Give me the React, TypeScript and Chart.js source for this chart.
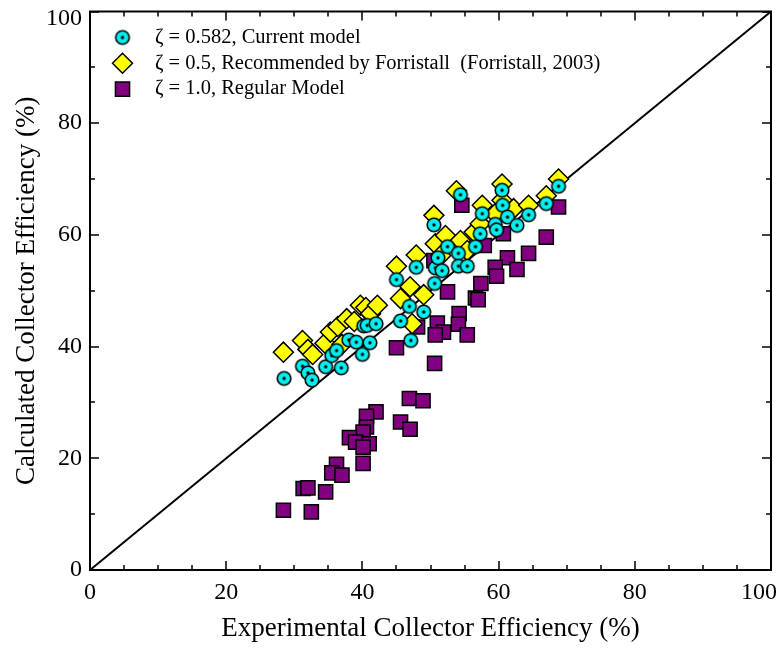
import React, { useEffect, useRef } from 'react';
import { Chart, registerables } from 'chart.js';
import { drawPoint } from 'chart.js/helpers';

Chart.register(...registerables);

const FONT = "'Liberation Serif', 'Times New Roman', Times, serif";

const seriesLabels = [
  'ζ = 0.582, Current model',
  'ζ = 0.5, Recommended by Forristall  (Forristall, 2003)',
  'ζ = 1.0, Regular Model',
];

const currentX = [28.5, 31.2, 32.0, 32.6, 34.6, 35.5, 36.2, 36.9, 38.0, 39.1, 40.0, 40.2, 40.7, 41.1, 42.0, 45.6, 46.9, 47.1, 49.0, 45.0, 47.9, 50.5, 50.6, 50.7, 51.1, 51.7, 52.5, 54.1, 54.1, 55.4, 54.4, 56.6, 57.3, 57.6, 59.5, 59.7, 60.5, 60.6, 61.3, 62.7, 64.4, 67.0, 68.8];
const currentY = [34.3, 36.5, 35.3, 34.0, 36.4, 38.4, 39.3, 36.2, 41.2, 40.8, 38.6, 43.7, 43.8, 40.7, 44.1, 44.6, 47.2, 41.1, 46.2, 52.0, 54.2, 61.8, 51.3, 54.1, 55.9, 53.6, 57.9, 56.7, 54.4, 54.4, 67.2, 57.9, 60.2, 63.8, 61.9, 60.9, 68.0, 65.3, 63.2, 61.7, 63.6, 65.6, 68.7];

const forristallX = [28.4, 31.2, 32.0, 32.7, 34.5, 35.3, 36.4, 37.0, 37.7, 38.8, 39.7, 40.5, 41.2, 42.2, 45.6, 47.0, 49.0, 47.3, 45.0, 47.9, 50.5, 50.7, 52.2, 51.5, 54.4, 53.8, 55.4, 56.4, 57.3, 57.6, 59.5, 60.5, 60.5, 62.2, 64.4, 67.0, 68.8];
const forristallY = [39.0, 41.1, 39.5, 38.6, 40.6, 42.6, 43.6, 40.4, 45.0, 44.5, 47.4, 47.0, 45.9, 47.4, 48.6, 50.7, 49.3, 44.1, 54.4, 56.4, 63.5, 58.4, 59.9, 56.3, 59.0, 67.9, 57.2, 60.5, 62.0, 65.3, 63.8, 69.1, 66.2, 64.7, 65.3, 67.0, 70.0];

const regularX = [54.6, 68.8, 67.0, 60.7, 57.9, 64.4, 61.3, 62.7, 59.5, 59.7, 57.4, 56.6, 57.0, 52.5, 50.5, 54.2, 54.1, 55.4, 51.0, 51.9, 50.7, 48.1, 45.0, 50.6, 46.9, 48.9, 45.6, 47.0, 42.0, 40.6, 40.6, 40.1, 38.1, 39.0, 41.0, 40.1, 40.1, 36.2, 35.5, 37.0, 31.3, 32.0, 34.6, 28.4, 32.5];
const regularY = [65.3, 65.0, 59.6, 60.2, 58.1, 56.7, 55.9, 53.8, 54.2, 52.6, 51.3, 48.7, 48.4, 49.8, 55.4, 45.9, 44.0, 42.1, 44.2, 42.6, 42.1, 43.5, 39.8, 37.0, 30.7, 30.3, 26.5, 25.2, 28.3, 27.5, 25.6, 24.7, 23.7, 22.9, 22.6, 22.0, 19.1, 18.9, 17.4, 17.0, 14.6, 14.7, 14.0, 10.7, 10.4];

const diagonalX = [0, 100];
const diagonalY = [0, 100];

const axisTicks = [0, 20, 40, 60, 80, 100];
const xMinorStep = 5;
const yMinorStep = 10;

const xTitle = 'Experimental Collector Efficiency (%)';
const yTitle = 'Calculated Collector Efficiency (%)';

const zip = (xs: number[], ys: number[]) => xs.map((x, i) => ({ x, y: ys[i] }));

function makeDotCircle(): HTMLCanvasElement {
  const c = document.createElement('canvas');
  c.width = 18;
  c.height = 18;
  const g = c.getContext('2d')!;
  g.beginPath();
  g.arc(9, 9, 6.8, 0, Math.PI * 2);
  g.fillStyle = '#00F0F0';
  g.fill();
  g.lineWidth = 1.6;
  g.strokeStyle = '#000';
  g.stroke();
  g.beginPath();
  g.arc(9, 9, 1.7, 0, Math.PI * 2);
  g.fillStyle = '#000';
  g.fill();
  return c;
}

const frameTicksPlugin = {
  id: 'frameTicks',
  afterDatasetsDraw(chart: any) {
    const { ctx, chartArea: a, scales } = chart;
    const xs = scales.x;
    const ys = scales.y;
    ctx.save();
    ctx.strokeStyle = '#000';
    ctx.lineWidth = 1.5;
    ctx.beginPath();
    for (let v = xs.min; v <= xs.max; v += xMinorStep) {
      const px = Math.round(xs.getPixelForValue(v));
      const len = v % 20 === 0 ? 9 : 5;
      ctx.moveTo(px, a.bottom);
      ctx.lineTo(px, a.bottom - len);
      ctx.moveTo(px, a.top);
      ctx.lineTo(px, a.top + len);
    }
    for (let v = ys.min; v <= ys.max; v += yMinorStep) {
      const py = Math.round(ys.getPixelForValue(v));
      const len = v % 20 === 0 ? 9 : 5;
      ctx.moveTo(a.left, py);
      ctx.lineTo(a.left + len, py);
      ctx.moveTo(a.right, py);
      ctx.lineTo(a.right - len, py);
    }
    ctx.stroke();
    ctx.lineWidth = 2;
    ctx.strokeRect(a.left, a.top, a.right - a.left, a.bottom - a.top);
    ctx.restore();
  },
};

const insideLegendPlugin = {
  id: 'insideLegend',
  afterDraw(chart: any) {
    const { ctx, chartArea: a } = chart;
    ctx.save();
    ctx.font = `20.5px ${FONT}`;
    ctx.textBaseline = 'middle';
    ctx.textAlign = 'left';
    const markerX = a.left + 32.5;
    const textX = a.left + 65;
    let row = 0;
    chart.data.datasets.forEach((ds: any) => {
      if (!ds.label) return;
      const cy = a.top + 26 + row * 25.8;
      ctx.fillStyle = ds.backgroundColor;
      ctx.strokeStyle = ds.borderColor;
      ctx.lineWidth = ds.borderWidth;
      drawPoint(ctx, { pointStyle: ds.pointStyle, radius: ds.pointRadius, rotation: 0, borderWidth: ds.borderWidth }, markerX, cy);
      ctx.fillStyle = '#000';
      ctx.fillText(ds.label, textX, cy);
      row++;
    });
    ctx.restore();
  },
};

export default function App() {
  const ref = useRef<HTMLCanvasElement | null>(null);

  useEffect(() => {
    if (!ref.current) return;
    const dotCircle = makeDotCircle();
    const tickFont = { family: FONT, size: 24 };
    const chart = new Chart(ref.current, {
      type: 'scatter',
      data: {
        datasets: [
          {
            label: seriesLabels[0],
            data: zip(currentX, currentY),
            pointStyle: dotCircle as any,
            pointRadius: 7,
            backgroundColor: '#00F0F0',
            borderColor: '#000',
            borderWidth: 1.5,
          },
          {
            label: seriesLabels[1],
            data: zip(forristallX, forristallY),
            pointStyle: 'rectRot',
            pointRadius: 10,
            backgroundColor: '#FFFF00',
            borderColor: '#000',
            borderWidth: 1.5,
          },
          {
            label: seriesLabels[2],
            data: zip(regularX, regularY),
            pointStyle: 'rect',
            pointRadius: 10,
            backgroundColor: '#800080',
            borderColor: '#000',
            borderWidth: 1.5,
          },
          {
            type: 'line',
            label: '',
            data: zip(diagonalX, diagonalY),
            showLine: true,
            pointRadius: 0,
            borderColor: '#000',
            borderWidth: 2,
            fill: false,
          } as any,
        ],
      },
      options: {
        animation: false,
        responsive: false,
        devicePixelRatio: 1,
        layout: { padding: { left: 0, right: 12, top: 11, bottom: 0 } },
        plugins: {
          legend: { display: false },
          tooltip: { enabled: false },
        },
        scales: {
          x: {
            type: 'linear',
            min: 0,
            max: 100,
            afterBuildTicks: (s: any) => {
              s.ticks = axisTicks.map((v) => ({ value: v }));
            },
            ticks: {
              font: tickFont,
              color: '#000',
              padding: 8,
              maxRotation: 0,
              autoSkip: false,
              callback: (v: any) => (v === 100 ? '100    ' : String(v)),
            },
            grid: { display: false, drawTicks: false },
            border: { display: false },
            title: {
              display: true,
              text: xTitle,
              color: '#000',
              font: { family: FONT, size: 27 },
              padding: { top: 0, bottom: 3.7 },
            },
            afterFit: (s: any) => {
              s.height = 79;
              s.paddingLeft = 0;
              s.paddingRight = 0;
            },
          },
          y: {
            type: 'linear',
            min: 0,
            max: 100,
            afterBuildTicks: (s: any) => {
              s.ticks = axisTicks.map((v) => ({ value: v }));
            },
            ticks: {
              font: (c: any) =>
                c.tick && c.tick.value === 100
                  ? { family: FONT, size: 24, lineHeight: 0.6 }
                  : { family: FONT, size: 24 },
              color: '#000',
              padding: 8,
              autoSkip: false,
              callback: (v: any) => (v === 100 ? ['', '100'] : String(v)),
            },
            grid: { display: false, drawTicks: false },
            border: { display: false },
            title: {
              display: true,
              text: yTitle,
              color: '#000',
              font: { family: FONT, size: 27 },
              padding: { top: 10.6, bottom: 0 },
            },
            afterFit: (s: any) => {
              s.width = 90;
              s.paddingTop = 0;
              s.paddingBottom = 0;
            },
          },
        },
      },
      plugins: [frameTicksPlugin, insideLegendPlugin],
    });
    return () => chart.destroy();
  }, []);

  return (
    <div style={{ position: 'absolute', left: 0, top: 0, width: 783, height: 649, background: '#fff' }}>
      <canvas ref={ref} width={783} height={649} />
    </div>
  );
}
